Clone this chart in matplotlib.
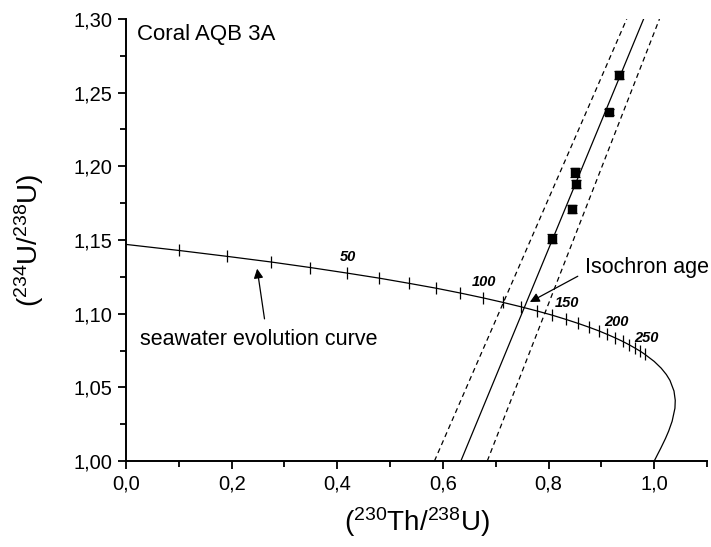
"""U-series isochron plot for coral AQB 3A."""

import matplotlib
matplotlib.use("Agg")
import matplotlib.pyplot as plt
from matplotlib.ticker import MultipleLocator

plt.rcParams["font.family"] = ["Liberation Sans", "DejaVu Sans"]
plt.rcParams["mathtext.fontset"] = "custom"
plt.rcParams["mathtext.rm"] = "Liberation Sans"
plt.rcParams["mathtext.it"] = "Liberation Sans:italic"
plt.rcParams["mathtext.bf"] = "Liberation Sans:bold"

# coral subsamples (230Th/238U, 234U/238U)
sample_th = [0.807, 0.844, 0.852, 0.850, 0.915, 0.934]
sample_u = [1.151, 1.171, 1.188, 1.196, 1.237, 1.262]
sample_u_err = [0.003, 0.003, 0.003, 0.003, 0.002, 0.003]

# isochron and its confidence band, read at y = 1.00 and y = 1.30
iso_u = [1.00, 1.30]
iso_th = [0.634, 0.980]
band_lo_th = [0.584, 0.948]
band_hi_th = [0.684, 1.010]

# seawater evolution curve, age in ka
curve_age = [0, 10, 20, 30, 40, 50, 60, 70, 80, 90, 100, 110, 120, 130, 140,
             150, 160, 170, 180, 190, 200, 210, 220, 230, 240, 250, 275, 300,
             325, 350, 400, 450, 500, 600, 700, 800, 1000, 1250, 1500, 2000, 9999]
curve_th = [0.0, 0.1002, 0.1913, 0.2740, 0.3492, 0.4175, 0.4795, 0.5357,
            0.5868, 0.6330, 0.6750, 0.7130, 0.7474, 0.7785, 0.8067, 0.8321,
            0.8551, 0.8759, 0.8946, 0.9114, 0.9266, 0.9402, 0.9525, 0.9634,
            0.9733, 0.9820, 1.0000, 1.0133, 1.0230, 1.0299, 1.0375, 1.0399,
            1.0393, 1.0340, 1.0274, 1.0214, 1.0125, 1.0062, 1.0031, 1.0008, 1.0]
curve_u = [1.1470, 1.1429, 1.1389, 1.1351, 1.1313, 1.1276, 1.1241, 1.1206,
           1.1173, 1.1140, 1.1108, 1.1077, 1.1047, 1.1018, 1.0990, 1.0962,
           1.0935, 1.0909, 1.0884, 1.0859, 1.0835, 1.0812, 1.0789, 1.0767,
           1.0746, 1.0725, 1.0676, 1.0630, 1.0587, 1.0547, 1.0475, 1.0412,
           1.0358, 1.0270, 1.0203, 1.0153, 1.0087, 1.0043, 1.0021, 1.0005, 1.0]
tick_ages = list(range(10, 251, 10))
labelled_ages = [50, 100, 150, 200, 250]

x_ticks = [0.0, 0.2, 0.4, 0.6, 0.8, 1.0]
x_tick_labels = ["0,0", "0,2", "0,4", "0,6", "0,8", "1,0"]
y_ticks = [1.00, 1.05, 1.10, 1.15, 1.20, 1.25, 1.30]
y_tick_labels = ["1,00", "1,05", "1,10", "1,15", "1,20", "1,25", "1,30"]


def main():
    fig = plt.figure(figsize=(7.11, 5.47), dpi=100)
    ax = fig.add_axes([126 / 711, 1 - 461 / 547, 581 / 711, 442 / 547])

    # evolution curve + 10 ka ticks
    ax.plot(curve_th, curve_u, color="k", lw=0.9)
    tk_x = [x for a, x in zip(curve_age, curve_th) if a in tick_ages]
    tk_y = [y for a, y in zip(curve_age, curve_u) if a in tick_ages]
    ax.plot(tk_x, tk_y, ls="none", marker="|", ms=8, mew=0.9, color="k")
    for a, x, y in zip(curve_age, curve_th, curve_u):
        if a in labelled_ages:
            ax.annotate(str(a), (x, y), xytext=(1, 11.5), textcoords="offset points",
                        ha="center", va="center", fontsize=10.5,
                        fontweight="bold", fontstyle="italic")

    # isochron
    ax.plot(iso_th, iso_u, color="k", lw=0.9)
    ax.plot(band_lo_th, iso_u, color="k", lw=0.9, ls=(0, (4, 3)))
    ax.plot(band_hi_th, iso_u, color="k", lw=0.9, ls=(0, (4, 3)))

    ax.errorbar(sample_th, sample_u, yerr=sample_u_err, fmt="s", color="k",
                ms=6, capsize=3.5, elinewidth=0.9, capthick=0.9, zorder=5)

    # text
    ax.text(0.021, 1.2858, "Coral AQB 3A", fontsize=16, va="baseline")
    ax.text(0.0265, 1.0788, "seawater evolution curve", fontsize=15.5, va="baseline")
    ax.annotate("", xy=(0.2475, 1.1324), xytext=(0.263, 1.0946),
                arrowprops=dict(arrowstyle="-|>", color="k", lw=0.9, mutation_scale=14))
    ax.text(0.869, 1.1274, "Isochron age", fontsize=15.5, va="baseline")
    ax.annotate("", xy=(0.760, 1.107), xytext=(0.860, 1.1263),
                arrowprops=dict(arrowstyle="-|>", color="k", lw=0.9, mutation_scale=14))

    ax.set_xlim(0, 1.1)
    ax.set_ylim(1.0, 1.3)
    ax.set_xticks(x_ticks)
    ax.set_xticklabels(x_tick_labels)
    ax.set_yticks(y_ticks)
    ax.set_yticklabels(y_tick_labels)
    ax.xaxis.set_minor_locator(MultipleLocator(0.1))
    ax.yaxis.set_minor_locator(MultipleLocator(0.025))
    ax.tick_params(which="both", direction="out", width=1.3, labelsize=14.5, pad=4)
    ax.tick_params(which="major", length=5.5)
    ax.tick_params(which="minor", length=4)

    for side in ["top", "right"]:
        ax.spines[side].set_visible(False)
    for side in ["left", "bottom"]:
        ax.spines[side].set_linewidth(1.4)

    ax.set_xlabel(r"($^{230}$Th/$^{238}$U)", fontsize=20, va="baseline")
    ax.xaxis.set_label_coords(0.5, -0.158)
    ax.set_ylabel(r"($^{234}$U/$^{238}$U)", fontsize=20, va="baseline")
    ax.yaxis.set_label_coords(-0.1515, 0.5)

    fig.savefig("out.png", dpi=100)
    plt.close(fig)


if __name__ == "__main__":
    main()
